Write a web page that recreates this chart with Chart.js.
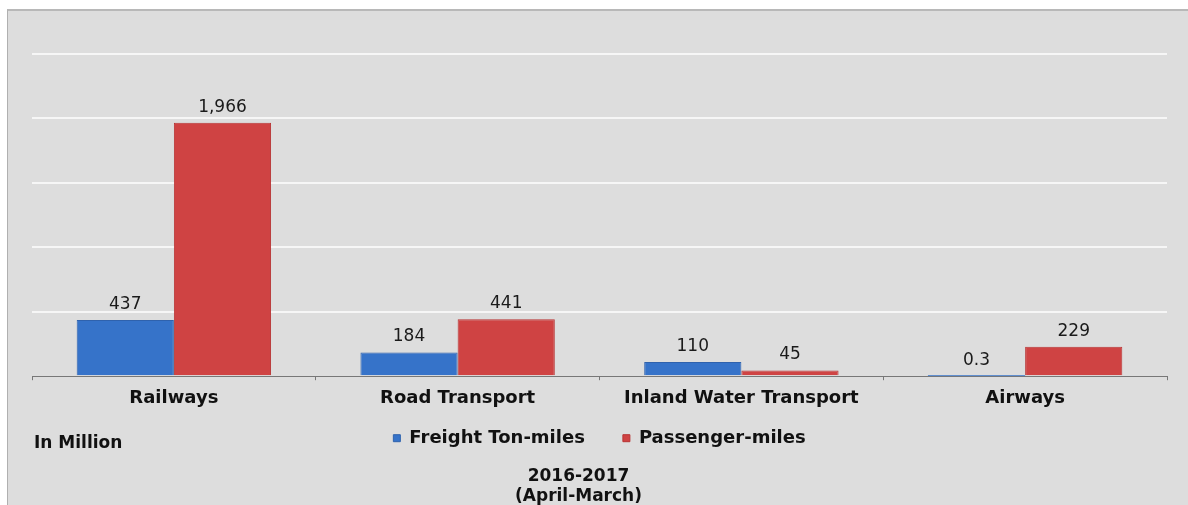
<!DOCTYPE html>
<html>
<head>
<meta charset="utf-8">
<script src="https://cdn.jsdelivr.net/npm/chart.js@4/dist/chart.umd.min.js"></script>
<style>
  html, body { margin: 0; padding: 0; background: #fff; overflow: hidden; }
  #wrap {
    position: absolute; left: 7px; top: 9px; width: 1181px; height: 500px;
    background: #dddddd;
    border-top: 2px solid #b8b8b8; border-left: 1px solid #b0b0b0;
    box-sizing: border-box;
  }
</style>
</head>
<body>
<div id="wrap"><canvas id="myChart"></canvas></div>
<script>
// data
var categories = ["Railways", "Road Transport", "Inland Water Transport", "Airways"];
var freight = [437, 184, 110, 0.3];
var passenger = [1966, 441, 45, 229];
var seriesNames = ["Freight Ton-miles", "Passenger-miles"];
var yTicks = [0, 500, 1000, 1500, 2000, 2500];

var FONT = "'DejaVu Sans', Verdana, sans-serif";

// 値ラベル
var valueLabels = {
  id: 'valueLabels',
  afterDatasetsDraw: function(chart) {
    var c = chart.ctx;
    c.save();
    c.font = "17px " + FONT;
    c.fillStyle = "#1a1a1a";
    c.textAlign = "center";
    c.textBaseline = "bottom";
    chart.data.datasets.forEach(function(ds, i) {
      chart.getDatasetMeta(i).data.forEach(function(bar, j) {
        var v = ds.data[j];
        var txt = v < 1 ? String(v) : v.toLocaleString('en-US');
        c.fillText(txt, bar.x, bar.y - 7);
      });
    });
    c.restore();
  }
};

// "In Million" + 凡例/タイトルの位置調整
var unitLabel = {
  id: 'unitLabel',
  afterLayout: function(chart) {
    if (chart.titleBlock) chart.titleBlock.right -= 42;
    if (chart.legend) { chart.legend.top -= 18; chart.legend.bottom -= 18; }
  },
  afterDraw: function(chart) {
    var c = chart.ctx;
    var lg = chart.legend;
    var y = lg.top + lg.options.labels.padding + 9;
    c.save();
    c.font = "bold 17px " + FONT;
    c.fillStyle = "#111";
    c.textAlign = "left";
    c.textBaseline = "middle";
    c.fillText("In Million", 26, y + 5);
    c.restore();
  }
};

var ctx = document.getElementById("myChart").getContext('2d');
var myChart = new Chart(ctx, {
  type: 'bar',
  data: {
    labels: categories,
    datasets: [
      {
        label: seriesNames[0],
        data: freight,
        backgroundColor: "#3673c9",
        borderColor: "#2f62ad",
        borderWidth: function(c) { return c.raw < 1 ? 0 : 1; }
      },
      {
        label: seriesNames[1],
        data: passenger,
        backgroundColor: "#cf4343",
        borderColor: "#b83434",
        borderWidth: 1
      }
    ]
  },
  plugins: [valueLabels, unitLabel],
  options: {
    responsive: true,
    maintainAspectRatio: false,
    animation: false,
    layout: { padding: { left: 24, right: 21, top: 43, bottom: 2 } },
    datasets: { bar: { categoryPercentage: 0.685, barPercentage: 1 } },
    scales: {
      x: {
        grid: { display: true, offset: true, drawOnChartArea: false, tickLength: 4, color: "#777" },
        border: { display: true, color: "#777", width: 1 },
        ticks: { color: "#111", font: { family: FONT, size: 18, weight: 'bold' }, padding: 7 },
        afterFit: function(scale) { scale.height = 33; }
      },
      y: {
        min: 0, max: 2500,
        afterBuildTicks: function(axis) { axis.ticks = yTicks.map(function(v) { return { value: v }; }); },
        ticks: { display: false },
        border: { display: false },
        grid: {
          color: function(c) { return c.tick.value === 0 ? 'rgba(0,0,0,0)' : '#f6f6f6'; },
          lineWidth: 2,
          drawTicks: false
        }
      }
    },
    plugins: {
      legend: {
        position: 'bottom',
        labels: {
          color: "#111",
          font: { family: FONT, size: 18, weight: 'bold' },
          boxWidth: 7, boxHeight: 7,
          padding: 38
        }
      },
      title: {
        display: true,
        position: 'bottom',
        text: ["2016-2017", "(April-March)"],
        color: "#111",
        font: { family: FONT, size: 17, weight: 'bold' },
        lineHeight: 1.1,
        padding: { top: -9, bottom: 0 }
      },
      tooltip: { enabled: false }
    }
  }
});
</script>
</body>
</html>
